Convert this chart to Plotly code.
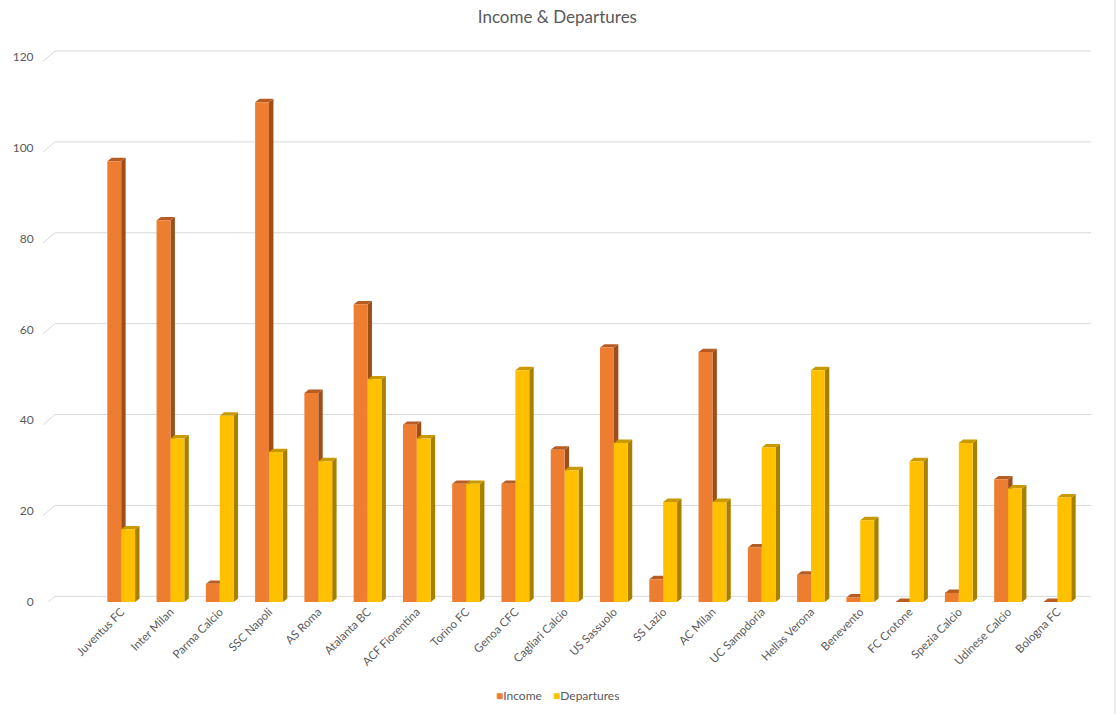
import plotly.graph_objects as go

teams = ["Juventus FC", "Inter Milan", "Parma Calcio", "SSC Napoli", "AS Roma",
         "Atalanta BC", "ACF Fiorentina", "Torino FC", "Genoa CFC", "Cagliari Calcio",
         "US Sassuolo", "SS Lazio", "AC Milan", "UC Sampdoria", "Hellas Verona",
         "Benevento", "FC Crotone", "Spezia Calcio", "Udinese Calcio", "Bologna FC"]
income = [97, 84, 4, 110, 46, 65.5, 39, 26, 26, 33.5, 56, 5, 55, 12, 6, 1, 0, 2, 27, 0]
departures = [16, 36, 41, 33, 31, 49, 36, 26, 51, 29, 35, 22, 22, 34, 51, 18, 31, 35, 25, 23]
y_ticks = [0, 20, 40, 60, 80, 100, 120]

C_INC, C_INC_SIDE, C_INC_TOP = "#ED7D31", "#9E4E1B", "#B75C22"
C_DEP, C_DEP_SIDE, C_DEP_TOP = "#FFC000", "#A88000", "#C99900"
TXT = "#595959"

ML, MR, MT, MB = 43, 26, 34, 112
PW, PH = 1117 - ML - MR, 714 - MT - MB

BARGAP = 0.436
W = (1 - BARGAP) / 2      # width of each bar in category units
DX, DY = 0.09, 0.75        # 3D depth offset (x units, y units)

xs = list(range(len(teams)))
fig = go.Figure()
fig.add_trace(go.Bar(x=xs, y=income, name="Income", marker=dict(color=C_INC, line=dict(width=0))))
fig.add_trace(go.Bar(x=xs, y=departures, name="Departures", marker=dict(color=C_DEP, line=dict(width=0))))

shapes = []
# back-wall gridlines with side-wall stubs
for v in y_ticks:
    shapes.append(dict(type="line", xref="paper", yref="y", x0=12 / PW, x1=1, y0=v + 1.25, y1=v + 1.25,
                       line=dict(color="#D9D9D9", width=1), layer="below"))
    shapes.append(dict(type="line", xref="paper", yref="y", x0=0, x1=12 / PW, y0=v - 1.0, y1=v + 1.25,
                       line=dict(color="#D9D9D9", width=1), layer="below"))

def faces(x0, x1, v, side, top):
    out = []
    out.append(dict(type="path", xref="x", yref="y", layer="between",
                    path=f"M{x1},0 L{x1+DX},{DY} L{x1+DX},{v+DY} L{x1},{v} Z",
                    fillcolor=side, line=dict(width=0)))
    out.append(dict(type="path", xref="x", yref="y", layer="between",
                    path=f"M{x0},{v} L{x0+DX},{v+DY} L{x1+DX},{v+DY} L{x1},{v} Z",
                    fillcolor=top, line=dict(width=0)))
    return out

for i, (a, b) in enumerate(zip(income, departures)):
    shapes += faces(i - W, i, a, C_INC_SIDE, C_INC_TOP)
    shapes += faces(i, i + W, b, C_DEP_SIDE, C_DEP_TOP)

# right border line of chart area
shapes.append(dict(type="line", xref="paper", yref="paper", x0=(1115 - ML) / PW, x1=(1115 - ML) / PW,
                   y0=-0.2, y1=1.07, line=dict(color="#D9D9D9", width=1)))

# compact legend (Excel style) as text annotations
LEG_Y = (714 - MB - 695) / PH
annotations = [
    dict(text=f"<span style='color:{C_INC}'>■</span>Income", xref="paper", yref="paper",
         x=(494 - ML) / PW, y=LEG_Y, xanchor="left", yanchor="middle", showarrow=False,
         font=dict(size=12, color=TXT)),
    dict(text=f"<span style='color:{C_DEP}'>■</span>Departures", xref="paper", yref="paper",
         x=(551 - ML) / PW, y=LEG_Y, xanchor="left", yanchor="middle", showarrow=False,
         font=dict(size=12, color=TXT)),
]

fig.update_layout(
    width=1117, height=714,
    margin=dict(l=ML, r=MR, t=MT, b=MB, autoexpand=False),
    paper_bgcolor="white", plot_bgcolor="white",
    barmode="group", bargap=BARGAP, bargroupgap=0,
    showlegend=False,
    font=dict(family="Lato, Open Sans, sans-serif", color=TXT, size=12),
    title=dict(text="Income & Departures", x=0.499, xref="container", xanchor="center",
               y=1 - 17 / 714, yref="container", yanchor="middle",
               font=dict(size=17, color=TXT)),
    xaxis=dict(range=[-1.587, 19.683], tickmode="array", tickvals=xs, ticktext=teams,
               tickangle=-45, showgrid=False, zeroline=False, showline=False, automargin=False,
               ticks="", tickfont=dict(size=11.5, color=TXT)),
    yaxis=dict(range=[0, 125], tickmode="array", tickvals=y_ticks, showgrid=False,
               zeroline=False, showline=False, ticks="outside", ticklen=6, automargin=False,
               tickcolor="rgba(0,0,0,0)", tickfont=dict(size=12, color=TXT)),
    annotations=annotations,
    shapes=shapes,
)

fig.write_html("out.html", config={"displayModeBar": False},
               post_script="document.body.style.margin='0';document.body.style.padding='0';"
                           "document.documentElement.style.overflow='hidden';")
